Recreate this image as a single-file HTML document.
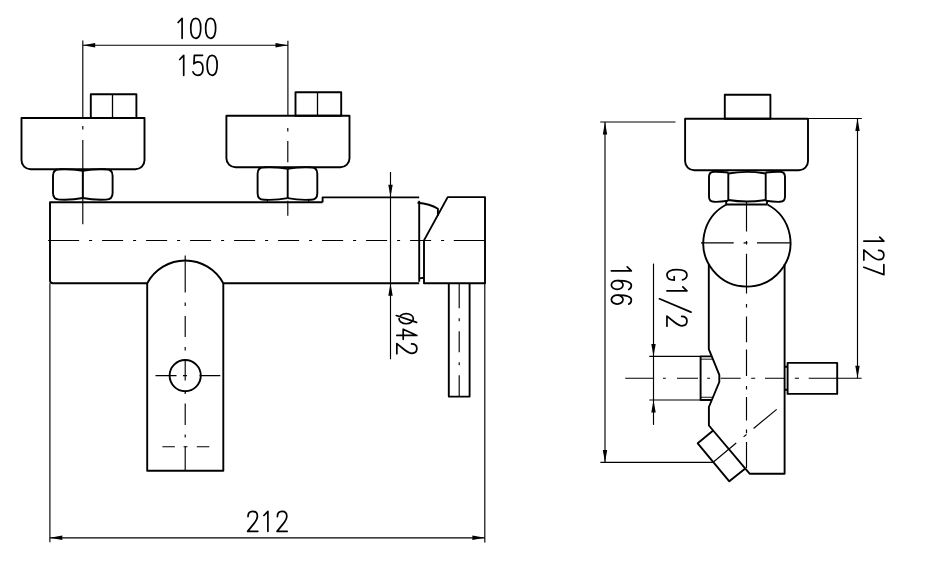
<!DOCTYPE html>
<html><head><meta charset="utf-8"><style>
html,body{margin:0;padding:0;background:#fff;width:935px;height:562px;overflow:hidden}
svg{display:block}
.k{fill:none;stroke:#000;stroke-width:1.9;stroke-linejoin:round;stroke-linecap:butt}
.t{fill:none;stroke:#000;stroke-width:1.15}
.t2{fill:none;stroke:#333;stroke-width:1.15}
.ar{fill:#000;stroke:none}
.k2{fill:none;stroke:#000;stroke-width:1.3}
.g{fill:none;stroke:#000;stroke-width:1.7;stroke-linecap:round;stroke-linejoin:round}
text{font-family:"Liberation Sans",sans-serif;fill:#111}
</style></head><body>
<svg width="935" height="562" viewBox="0 0 935 562">
<path class="t" d="M267.4 199.5L267.4 202.5"/>
<path class="t" d="M308.6 199.5L308.6 202.5"/>
<path class="t" d="M48.1 240.5L79.1 240.5M89.1 240.5L92.1 240.5M102.1 240.5L123.1 240.5M133.1 240.5L136.1 240.5M146.1 240.5L167.1 240.5M177.1 240.5L180.1 240.5M190.1 240.5L211.1 240.5M221.1 240.5L224.1 240.5M234.1 240.5L255.1 240.5M265.1 240.5L268.1 240.5M278.1 240.5L299.1 240.5M309.1 240.5L312.1 240.5M322.1 240.5L343.1 240.5M353.1 240.5L356.1 240.5M366.1 240.5L387.1 240.5M397.1 240.5L400.1 240.5M410.1 240.5L431.1 240.5M441.1 240.5L444.1 240.5M454.1 240.5L475.1 240.5M453.8 240.5L485.6 240.5"/>
<path class="t" d="M82.8 126L82.8 129.5M82.8 139.9L82.8 224.2"/>
<path class="t" d="M287.8 128L287.8 131.4M287.8 141L287.8 162.3M287.8 200.8L287.8 215.7"/>
<path class="t" d="M185.2 255.4L185.2 292.4M185.2 302.4L185.2 305.9M185.2 315.9L185.2 336.9M185.2 346.9L185.2 350.4M185.2 360.4L185.2 380.4M185.2 390.9L185.2 393.9M185.2 403.4L185.2 424.9M185.2 434.4L185.2 437.4M185.2 446.4L185.2 470.8"/>
<path class="t" d="M155.5 375.6L176.5 375.6M183 375.6L187 375.6M199.5 375.6L220.3 375.6"/>
<path class="t" d="M162.4 446.7L174.9 446.7M183.6 446.7L187.4 446.7M196.8 446.7L209.3 446.7"/>
<path class="t" d="M459.2 283.3L459.2 308.3M459.2 318.3L459.2 321.3M459.2 331.3L459.2 352.3M459.2 362.3L459.2 365.3M459.2 375.3L459.2 396.6"/>
<path class="t" d="M82.8 40.6L82.8 118"/>
<path class="t" d="M287.9 40.8L287.9 115.7"/>
<path class="t" d="M82.8 45.2L287.9 45.2"/>
<path class="t" d="M390.5 172L390.5 359.3"/>
<path class="t" d="M49.9 283.3L49.9 542.3"/>
<path class="t" d="M484.8 283.3L484.8 542.5"/>
<path class="t" d="M49.9 537.8L484.8 537.8"/>
<path class="t2" d="M700.6 359.2L712.9 359.2"/>
<path class="t2" d="M700.6 397.3L712.9 397.3"/>
<path class="t" d="M746.5 202.1L746.5 231.5M746.5 240.9L746.5 244.5M746.5 253.7L746.5 293.5M746.5 304L746.5 307.6M746.5 316.5L746.5 342.3M746.5 349.4L746.5 376M746.5 385.9L746.5 389.6M746.5 397L746.5 420.5M746.5 429.4L746.5 433.2M746.5 442L746.5 468.1"/>
<path class="t" d="M701 242.8L733.7 242.8M743.6 242.8L747.4 242.8M757 242.8L790 242.8"/>
<path class="t" d="M625.2 378.2L653.8 378.2M663 378.2L665.8 378.2M677 378.2L698 378.2M707.2 378.2L710 378.2M720.6 378.2L740.7 378.2M751.2 378.2L755.2 378.2M765 378.2L785.2 378.2M794.8 378.2L799 378.2M808.7 378.2L861.6 378.2"/>
<path class="t" d="M713.7 461.7L736.23 442.96M743.61 436.82L746.45 434.46M753.6 428.51L776.67 409.33"/>
<path class="t" d="M600.2 122L675.5 122"/>
<path class="t" d="M605 122L605 462.4"/>
<path class="t" d="M600.4 462.4L713 462.4"/>
<path class="t" d="M808 118.5L861.8 118.5"/>
<path class="t" d="M857.5 118.5L857.5 378.2"/>
<path class="t" d="M649.3 356.4L700.6 356.4"/>
<path class="t" d="M649.3 400L700.6 400"/>
<path class="t" d="M653.5 263.6L653.5 424.9"/>
<path class="k" d="M21.5 118L144.5 118L144.5 160.3A9 9 0 0 1 135.5 169.3L30.5 169.3A9 9 0 0 1 21.5 160.3Z"/>
<path class="k" d="M90.8 94.3H136.4V118H90.8Z"/>
<path class="k" d="M82.8 170.9Q71.9 168.7 59.5 169.3Q53 169.3 53 175.8L53 193.1Q53 199.6 59.5 199.6Q71.9 200.2 82.8 198"/>
<path class="k" d="M82.8 170.9Q93.7 168.7 106.1 169.3Q112.6 169.3 112.6 175.8L112.6 193.1Q112.6 199.6 106.1 199.6Q93.7 200.2 82.8 198"/>
<path class="k" d="M82.8 170.9L82.8 198"/>
<path class="k" d="M226.4 115.7L349.5 115.7L349.5 158.3A9 9 0 0 1 340.5 167.3L235.4 167.3A9 9 0 0 1 226.4 158.3Z"/>
<path class="k" d="M295.5 92.2H341.2V115.7H295.5Z"/>
<path class="k" d="M287.7 168.9Q276.65 166.7 264.1 167.3Q257.6 167.3 257.6 173.8L257.6 193.2Q257.6 199.7 264.1 199.7Q276.65 200.3 287.7 198.1"/>
<path class="k" d="M287.7 168.9Q298.5 166.7 310.8 167.3Q317.3 167.3 317.3 173.8L317.3 193.2Q317.3 199.7 310.8 199.7Q298.5 200.3 287.7 198.1"/>
<path class="k" d="M287.7 168.9L287.7 198.1"/>
<path class="k" d="M322.6 202.3H50V280.3Q50 283.3 53 283.3H147.2A43.1 43.1 0 0 1 223.3 283.3H419.2"/>
<path class="k" d="M322.6 202.3V197.4H419.2"/>
<path class="k" d="M419.2 200.8L419.2 281.8"/>
<path class="k" d="M417.5 202.8Q430 204 437.9 208.7V215.8"/>
<path class="k" d="M419.2 278.4L424 277.8"/>
<path class="k" d="M424 240.4L447.7 197.1H485V283.3H424Z"/>
<path class="k" d="M448.8 283.3V396.6H469.6V283.3"/>
<path class="k" d="M147.2 283.3V470.8H223.3V283.3"/>
<path class="k" d="M685.1 118.7L808 118.7L808 161.3A9 9 0 0 1 799 170.3L694.1 170.3A9 9 0 0 1 685.1 161.3Z"/>
<path class="k" d="M724.8 94.8H770.4V118.7H724.8Z"/>
<path class="k" d="M728.3 173.5Q746.7 170.3 765.7 173.5"/>
<path class="k" d="M728.3 200Q746.7 203 765.7 200"/>
<path class="k" d="M728.3 172.5Q720 171.6 714 171.8Q709 171.8 709 177V196.5Q709 201.8 714 201.8Q720 202 728.3 200.8"/>
<path class="k" d="M765.7 172.5Q774 171.6 780 171.8Q785 171.8 785 177V196.5Q785 201.8 780 201.8Q774 202 765.7 200.8"/>
<path class="k" d="M728.3 172.5L728.3 201"/>
<path class="k" d="M765.7 172.5L765.7 201"/>
<path class="k" d="M726.2 204.5L767 204.5"/>
<path class="k" d="M726.2 201.3L726.2 204.5"/>
<path class="k" d="M767 201.3L767 204.5"/>
<path class="k" d="M726.4 204.5A43.6 43.6 0 1 0 767.4 204.5"/>
<path class="k" d="M708.8 264.2V349.2L719.3 374.9V382L708.9 407V425.5L749.6 473.7H784.6V264.2"/>
<path class="k" d="M713.2 430.6L697.7 443.3L729.3 481.3L745.3 468.6"/>
<path class="k" d="M711.8 356.4H700.6V400H711.8"/>
<path class="k" d="M787.6 362.9H837.2V393.9H787.6Z"/>
<path class="k" d="M784.6 366.8H787.6M784.6 389.8H787.6"/>
<path class="k2" d="M112.5 94.3V118"/>
<path class="k2" d="M317.5 92.2V115.7"/>
<circle class="k" cx="185.2" cy="375.6" r="15.6"/>
<path class="ar" d="M82.8 45.2L95.2 43L95.2 47.4Z"/>
<path class="ar" d="M287.9 45.2L275.5 47.4L275.5 43Z"/>
<path class="g" transform="translate(177.5 39.2)" d="M0.6 -16.7L4.6 -20.85V-0.85"/>
<path class="g" transform="translate(189.9 39.2)" d="M5.85 -20.85C9.3 -20.85 10.85 -16.3 10.85 -10.85C10.85 -5.4 9.3 -0.85 5.85 -0.85C2.4 -0.85 0.85 -5.4 0.85 -10.85C0.85 -16.3 2.4 -20.85 5.85 -20.85Z"/>
<path class="g" transform="translate(204.8 39.2)" d="M5.85 -20.85C9.3 -20.85 10.85 -16.3 10.85 -10.85C10.85 -5.4 9.3 -0.85 5.85 -0.85C2.4 -0.85 0.85 -5.4 0.85 -10.85C0.85 -16.3 2.4 -20.85 5.85 -20.85Z"/>
<path class="g" transform="translate(179.1 76.2)" d="M0.6 -16.7L4.6 -20.85V-0.85"/>
<path class="g" transform="translate(192.1 76.2)" d="M10.4 -20.85H2.3L1.8 -12.4C2.9 -13.6 4.4 -14.3 6 -14.3C9 -14.3 10.85 -11.6 10.85 -7.6C10.85 -3.2 8.7 -0.85 5.8 -0.85C3.5 -0.85 1.7 -2 0.85 -4.4"/>
<path class="g" transform="translate(206.3 76.2)" d="M5.85 -20.85C9.3 -20.85 10.85 -16.3 10.85 -10.85C10.85 -5.4 9.3 -0.85 5.85 -0.85C2.4 -0.85 0.85 -5.4 0.85 -10.85C0.85 -16.3 2.4 -20.85 5.85 -20.85Z"/>
<path class="ar" d="M390.5 197.2L388.3 184.8L392.7 184.8Z"/>
<path class="ar" d="M390.5 283.3L392.7 295.7L388.3 295.7Z"/>
<path class="ar" d="M49.9 537.8L62.3 535.6L62.3 540Z"/>
<path class="ar" d="M484.8 537.8L472.4 540L472.4 535.6Z"/>
<path class="g" transform="translate(246.8 532.2)" d="M1.2 -15.6C1.2 -19.1 3.2 -20.85 5.9 -20.85C8.9 -20.85 10.6 -18.7 10.6 -15.9C10.6 -13.3 9.2 -11.2 7.3 -8.8L0.85 -0.85H11"/>
<path class="g" transform="translate(263.3 532.2)" d="M0.6 -16.7L4.6 -20.85V-0.85"/>
<path class="g" transform="translate(276.2 532.2)" d="M1.2 -15.6C1.2 -19.1 3.2 -20.85 5.9 -20.85C8.9 -20.85 10.6 -18.7 10.6 -15.9C10.6 -13.3 9.2 -11.2 7.3 -8.8L0.85 -0.85H11"/>
<path class="ar" d="M605 122L607.2 134.4L602.8 134.4Z"/>
<path class="ar" d="M605 462.4L602.8 450L607.2 450Z"/>
<path class="g" transform="translate(610.5 266.2) rotate(90)" d="M0.6 -16.7L4.6 -20.85V-0.85"/>
<path class="g" transform="translate(610.5 279.7) rotate(90)" d="M9.8 -18.2C9.2 -20 7.7 -20.85 5.6 -20.85C2.4 -20.85 0.85 -17.2 0.85 -7.5M0.85 -6.7A4.45 5.85 0 1 0 9.75 -6.7A4.45 5.85 0 1 0 0.85 -6.7"/>
<path class="g" transform="translate(610.5 294.3) rotate(90)" d="M9.8 -18.2C9.2 -20 7.7 -20.85 5.6 -20.85C2.4 -20.85 0.85 -17.2 0.85 -7.5M0.85 -6.7A4.45 5.85 0 1 0 9.75 -6.7A4.45 5.85 0 1 0 0.85 -6.7"/>
<path class="ar" d="M857.5 118.5L859.7 130.9L855.3 130.9Z"/>
<path class="ar" d="M857.5 378.2L855.3 365.8L859.7 365.8Z"/>
<path class="g" transform="translate(863 236.5) rotate(90)" d="M0.6 -16.7L4.6 -20.85V-0.85"/>
<path class="g" transform="translate(863 249.1) rotate(90)" d="M1.2 -15.6C1.2 -19.1 3.2 -20.85 5.9 -20.85C8.9 -20.85 10.6 -18.7 10.6 -15.9C10.6 -13.3 9.2 -11.2 7.3 -8.8L0.85 -0.85H11"/>
<path class="g" transform="translate(863 263.8) rotate(90)" d="M0.85 -20.85H10.85L3.4 -0.85"/>
<path class="ar" d="M653.5 356.4L651.3 344L655.7 344Z"/>
<path class="ar" d="M653.5 400L655.7 412.4L651.3 412.4Z"/>
<path class="g" transform="translate(666.1 268.8) rotate(90)" d="M11.1 -16.4C10.4 -19.4 8.5 -20.85 6 -20.85C2.6 -20.85 0.85 -17 0.85 -10.85C0.85 -4.7 2.6 -0.85 6 -0.85C9.5 -0.85 11.35 -3.6 11.35 -8.1H7.9"/>
<path class="g" transform="translate(666.1 286.2) rotate(90)" d="M0.6 -16.7L4.6 -20.85V-0.85"/>
<path class="g" transform="translate(666.1 315.2) rotate(90)" d="M1.2 -15.6C1.2 -19.1 3.2 -20.85 5.9 -20.85C8.9 -20.85 10.6 -18.7 10.6 -15.9C10.6 -13.3 9.2 -11.2 7.3 -8.8L0.85 -0.85H11"/>
<path class="g" d="M659.4 298.8L691 312.1"/>
<path class="g" transform="translate(396 312.8) rotate(90)" d="M0.85 -10.2A5.05 7.15 0 1 0 10.95 -10.2A5.05 7.15 0 1 0 0.85 -10.2M2.7 -0.3L9.6 -20.6"/>
<path class="g" transform="translate(396 328.3) rotate(90)" d="M7.1 -0.85V-20.85L0.85 -7.2H11"/>
<path class="g" transform="translate(396 342.7) rotate(90)" d="M1.2 -15.6C1.2 -19.1 3.2 -20.85 5.9 -20.85C8.9 -20.85 10.6 -18.7 10.6 -15.9C10.6 -13.3 9.2 -11.2 7.3 -8.8L0.85 -0.85H11"/>
</svg>
</body></html>
